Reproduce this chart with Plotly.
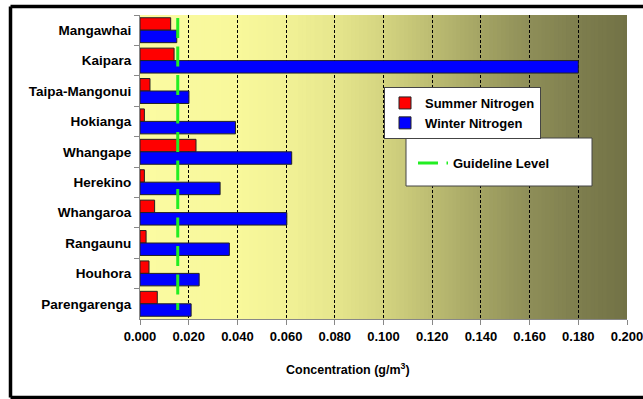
import plotly.graph_objects as go

# ---- data ----
SITES = ["Mangawhai", "Kaipara", "Taipa-Mangonui", "Hokianga", "Whangape",
         "Herekino", "Whangaroa", "Rangaunu", "Houhora", "Parengarenga"]
SUMMER_N = [0.0126, 0.0140, 0.0041, 0.0018, 0.0230, 0.0018, 0.0060, 0.0025, 0.0037, 0.0071]
WINTER_N = [0.0151, 0.1800, 0.0201, 0.0392, 0.0623, 0.0329, 0.0603, 0.0367, 0.0243, 0.0210]
GUIDELINE = 0.0155
X_TICKS = [0.0, 0.02, 0.04, 0.06, 0.08, 0.10, 0.12, 0.14, 0.16, 0.18, 0.20]
X_TICK_LABELS = ["0.000", "0.020", "0.040", "0.060", "0.080", "0.100",
                 "0.120", "0.140", "0.160", "0.180", "0.200"]

FONT = "Liberation Sans, Arial, sans-serif"

fig = go.Figure()
fig.add_trace(go.Bar(
    y=SITES, x=SUMMER_N, orientation="h", name="Summer Nitrogen",
    marker=dict(color="#FF0000", line=dict(color="#222222", width=1)),
    legend="legend"))
fig.add_trace(go.Bar(
    y=SITES, x=WINTER_N, orientation="h", name="Winter Nitrogen",
    marker=dict(color="#0000FF", line=dict(color="#222222", width=1)),
    legend="legend"))
fig.add_trace(go.Scatter(
    x=[GUIDELINE, GUIDELINE], y=[0.99, 0.03], yaxis="y2", mode="lines",
    name="Guideline Level",
    line=dict(color="#22EE22", width=3, dash="20px,8.5px"),
    legend="legend2"))

# horizontal gradient background of the plot area
stops = [(0.0, (251, 251, 162)), (0.2, (248, 248, 155)), (0.3, (242, 242, 150)),
         (0.4, (230, 230, 141)), (0.5, (212, 212, 128)), (0.6, (188, 188, 114)),
         (0.7, (164, 164, 100)), (0.8, (142, 142, 88)), (0.9, (126, 126, 78)),
         (1.0, (114, 114, 70))]

def col(t):
    for (t0, c0), (t1, c1) in zip(stops[:-1], stops[1:]):
        if t0 <= t <= t1:
            f = (t - t0) / (t1 - t0)
            return "rgb(%d,%d,%d)" % tuple(round(a + (b - a) * f) for a, b in zip(c0, c1))
    return "rgb(%d,%d,%d)" % stops[-1][1]

shapes = []
N = 120
for i in range(N):
    shapes.append(dict(type="rect", xref="x domain", yref="y domain",
                       x0=i / N, x1=min(1.0, (i + 1) / N + 0.002), y0=0, y1=1,
                       fillcolor=col((i + 0.5) / N), line=dict(width=0),
                       layer="below"))
# box around guideline legend
shapes.append(dict(type="rect", xref="paper", yref="paper",
                   x0=(406 - 140) / 487, x1=(592 - 140) / 487,
                   y0=(319 - 186) / 304, y1=(319 - 138) / 304,
                   fillcolor="white", line=dict(color="#444444", width=1),
                   layer="above"))
# outer frame (left, top, bottom edges; right edge lies beyond the image)
fx0 = (10.5 - 140) / 487
fx1 = 1.1
fy0 = (319 - 397.5) / 304
fy1 = (319 - 6.5) / 304
for (ax0, ay0, ax1, ay1) in [(fx0, fy0, fx0, fy1), (fx0, fy1, fx1, fy1), (fx0, fy0, fx1, fy0)]:
    shapes.append(dict(type="line", xref="paper", yref="paper",
                       x0=ax0, y0=ay0, x1=ax1, y1=ay1,
                       line=dict(color="black", width=3.5), layer="above"))

fig.update_layout(
    width=643, height=399,
    margin=dict(l=140, r=16, t=15, b=80, autoexpand=False),
    paper_bgcolor="white", plot_bgcolor="rgba(0,0,0,0)",
    barmode="group", bargap=0.18, bargroupgap=0,
    font=dict(family=FONT, size=13, color="black"),
    shapes=shapes,
    xaxis=dict(range=[0, 0.2], tickvals=X_TICKS, ticktext=X_TICK_LABELS,
               tickfont=dict(family=FONT, size=13, weight="bold", color="black"),
               showgrid=True, gridcolor="black", griddash="3px,2px", gridwidth=1,
               zeroline=False, showline=True, linecolor="#888888", linewidth=1,
               ticks="outside", ticklen=5, tickcolor="#888888", automargin=False,
               ticklabeloverflow="allow"),
    yaxis=dict(type="category", autorange="reversed",
               tickfont=dict(family=FONT, size=13.5, weight="bold", color="black"),
               showline=True, linecolor="#888888", linewidth=1,
               ticks="outside", ticklen=5, tickcolor="#888888",
               tickson="boundaries", ticklabelstandoff=5, showgrid=False,
               automargin=False),
    yaxis2=dict(overlaying="y", range=[0, 1], visible=False),
    legend=dict(x=(384 - 140) / 487, y=(319 - 87) / 304, xanchor="left", yanchor="top",
                bgcolor="white", bordercolor="#444444", borderwidth=1,
                font=dict(family=FONT, size=13, weight="bold", color="black"),
                tracegroupgap=0, itemclick=False),
    legend2=dict(x=(413 - 140) / 487, y=(319 - 163) / 304, xanchor="left", yanchor="middle",
                 bgcolor="rgba(0,0,0,0)", borderwidth=0,
                 font=dict(family=FONT, size=13, weight="bold", color="black")),
    annotations=[dict(text="Concentration (g/m<sup>3</sup>)", xref="paper", yref="paper",
                      x=(347.5 - 140) / 487, y=(319 - 369) / 304,
                      xanchor="center", yanchor="middle", showarrow=False,
                      font=dict(family=FONT, size=12.5, weight="bold", color="black"))],
)

fig.write_html("out.html", config={"displayModeBar": False},
               post_script="document.body.style.margin='0';document.body.style.overflow='hidden';")
